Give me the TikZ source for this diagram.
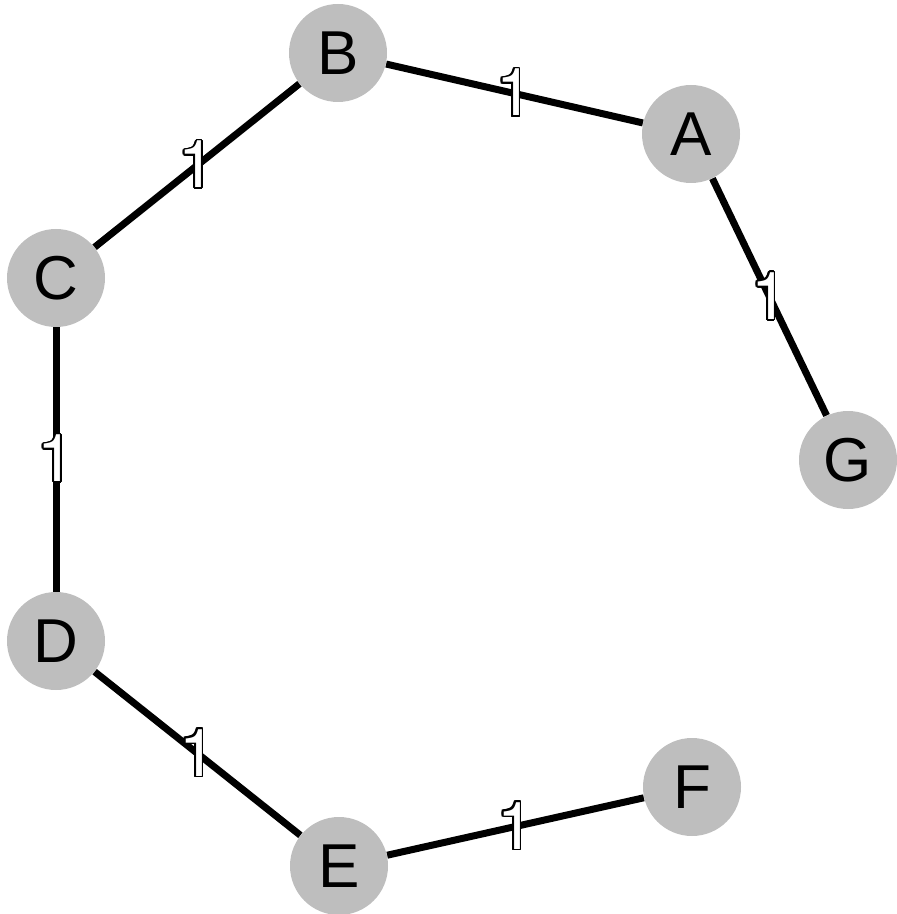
\documentclass[tikz,border=0pt]{standalone}
\usepackage{fontspec}
\setmainfont{Liberation Sans}
\newfontfamily\weightfont{TeX Gyre Heros}
\usepackage{xcolor}
\usepackage{tikz}
\usepackage[copies]{contour}
\usetikzlibrary{positioning}
\definecolor{vertexgray}{RGB}{190,190,190}
\contourlength{0.9pt}
\contournumber{16}

\begin{document}
\begin{tikzpicture}[
    x=0.5pt, y=-0.5pt,
    vertex/.style={
        circle, inner sep=0pt,
        minimum size=49pt,
        fill=vertexgray,
        font=\fontsize{31}{31}\selectfont
    },
    weight/.style={
        inner sep=0pt,
        font=\weightfont\fontsize{33}{33}\selectfont
    },
    link/.style={line width=3.5pt, color=black}
]
\useasboundingbox (0,0) rectangle (897,914);

% --- vertices on a ring ---
\node[vertex] (A) at (691,134) {A};
\node[vertex] (B) at (338,53)  {B};
\node[vertex] (C) at (56,278)  {C};
\node[vertex] (D) at (56,641)  {D};
\node[vertex] (E) at (339,866) {E};
\node[vertex] (F) at (692,787) {F};
\node[vertex] (G) at (848,460) {G};

% --- edges with weights ---
\draw[link] (B) -- (A) node[weight, midway] {\contour{black}{\textcolor{white}{1}}};
\draw[link] (C) -- (B) node[weight, midway] {\contour{black}{\textcolor{white}{1}}};
\draw[link] (C) -- (D) node[weight, midway] {\contour{black}{\textcolor{white}{1}}};
\draw[link] (D) -- (E) node[weight, midway] {\contour{black}{\textcolor{white}{1}}};
\draw[link] (E) -- (F) node[weight, midway] {\contour{black}{\textcolor{white}{1}}};
\draw[link] (A) -- (G) node[weight, midway] {\contour{black}{\textcolor{white}{1}}};

\end{tikzpicture}
\end{document}
